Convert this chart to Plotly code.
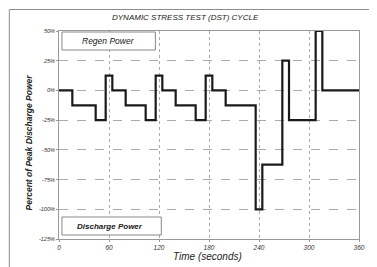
import plotly.graph_objects as go

# DST cycle step start times (s) and power level (% of peak discharge power)
times = [0, 16, 44, 56, 64, 80, 104, 116, 124, 140, 164, 176, 184, 200, 236, 244, 268, 276, 308, 316, 360]
power = [0, -12.5, -25, 12.5, 0, -12.5, -25, 12.5, 0, -12.5, -25, 12.5, 0, -12.5, -100, -62.5, 25, -25, 50, 0, 0]

x_ticks = [0, 60, 120, 180, 240, 300, 360]
y_ticks = [50, 25, 0, -25, -50, -75, -100, -125]
y_tick_labels = ["50%", "25%", "0%", "-25%", "-50%", "-75%", "-100%", "-125%"]

FONT = "Liberation Sans, Arial, sans-serif"

# page has an 8px body margin: work in window pixels, convert to figure pixels
OFF = 8
WIN_W, WIN_H = 377, 267
W, H = WIN_W - OFF, WIN_H - OFF
PL, PR, PT, PB = 59, 364, 31, 239  # plot area in window pixels
L, R, T, B = PL - OFF, W - (PR - OFF), PT - OFF, H - (PB - OFF)
pw, ph = PR - PL, PB - PT

def ax_x(p):
    return (p - PL) / pw

def ax_y(p):
    return 1 - (p - PT) / ph

fig = go.Figure()
fig.add_trace(go.Scatter(
    x=times, y=power, mode="lines", line_shape="hv",
    line=dict(color="#1a1a1a", width=2.2), showlegend=False,
))

fig.update_layout(
    width=W, height=H,
    margin=dict(l=L, r=R, t=T, b=B),
    paper_bgcolor="white", plot_bgcolor="white",
    font=dict(family=FONT, color="#222"),
    xaxis=dict(
        range=[0, 360], tickvals=x_ticks, ticks="outside", ticklen=2,
        tickcolor="#999", tickfont=dict(size=6.5, style="italic", color="#333"),
        showgrid=True, gridcolor="#aaaaaa", griddash="dot", gridwidth=1,
        showline=True, linecolor="#999", linewidth=1, mirror=True,
        zeroline=False, fixedrange=True,
    ),
    yaxis=dict(
        range=[-125, 50], tickvals=y_ticks, ticktext=y_tick_labels,
        ticks="outside", ticklen=2, tickcolor="#999",
        tickfont=dict(size=5.5, style="italic", color="#333"),
        showgrid=True, gridcolor="#aaaaaa", griddash="dash", gridwidth=1,
        showline=True, linecolor="#999", linewidth=1, mirror=True,
        zeroline=False, fixedrange=True,
    ),
)

shapes = [
    # outer frame (extends beyond bottom/right of the window)
    dict(type="line", xref="paper", yref="paper", x0=ax_x(8.5), x1=ax_x(400), y0=ax_y(9.5), y1=ax_y(9.5),
         line=dict(color="#8c8c8c", width=1)),
    dict(type="line", xref="paper", yref="paper", x0=ax_x(8.5), x1=ax_x(8.5), y0=ax_y(9.5), y1=ax_y(300),
         line=dict(color="#8c8c8c", width=1)),
    dict(type="rect", xref="paper", yref="paper", x0=ax_x(62), x1=ax_x(157), y0=ax_y(32), y1=ax_y(50),
         line=dict(color="#888", width=1), fillcolor="white", layer="above"),
    dict(type="rect", xref="paper", yref="paper", x0=ax_x(62), x1=ax_x(163), y0=ax_y(217), y1=ax_y(235),
         line=dict(color="#888", width=1), fillcolor="white", layer="above"),
]
fig.update_layout(shapes=shapes)

annotations = [
    dict(text="DYNAMIC STRESS TEST (DST) CYCLE", x=ax_x(188), y=ax_y(17),
         font=dict(size=8, style="italic", color="#222")),
    dict(text="Regen Power", x=ax_x(109), y=ax_y(41),
         font=dict(size=8.5, style="italic", color="#222")),
    dict(text="Discharge Power", x=ax_x(111), y=ax_y(226),
         font=dict(size=8, style="italic", weight="bold", color="#222")),
    dict(text="Time (seconds)", x=ax_x(210), y=ax_y(257),
         font=dict(size=10, style="italic", color="#222")),
    dict(text="Percent of Peak Discharge Power", x=ax_x(28), y=ax_y(143), textangle=-90,
         font=dict(size=8.5, style="italic", weight="bold", color="#222")),
]
for a in annotations:
    a.update(xref="paper", yref="paper", showarrow=False, xanchor="center", yanchor="middle")
fig.update_layout(annotations=annotations)

fig.write_html("out.html")
